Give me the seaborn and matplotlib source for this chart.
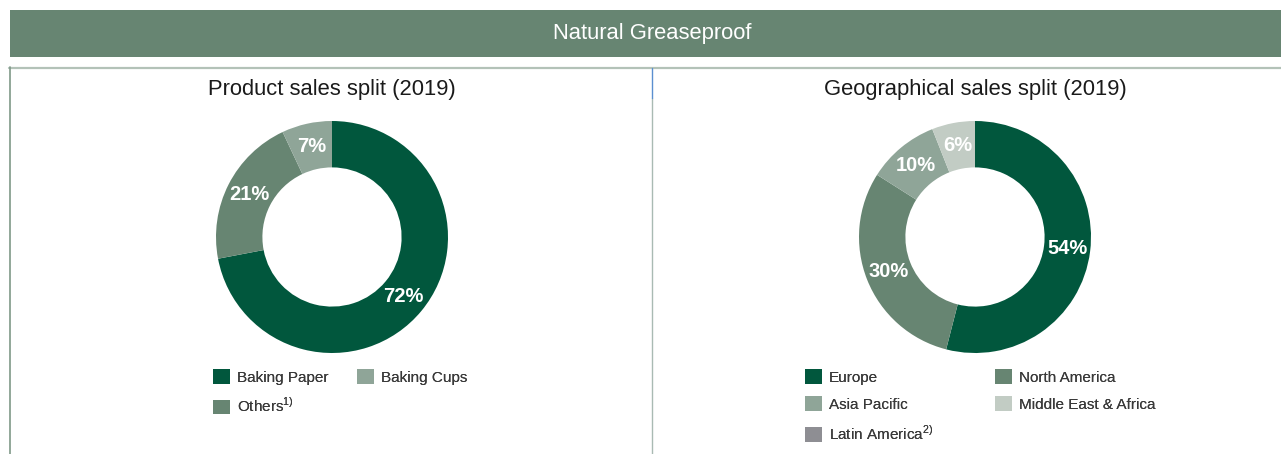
import matplotlib
matplotlib.use("Agg")
import matplotlib.pyplot as plt
from matplotlib.patches import Rectangle, Patch
from matplotlib.lines import Line2D
import numpy as np
import seaborn as sns

sns.set_theme(style="white")
plt.rcParams["font.family"] = ["Liberation Sans", "DejaVu Sans"]

# ---- data ----
header_title = "Natural Greaseproof"

product_title = "Product sales split (2019)"
product_labels = ["Baking Paper", "Others", "Baking Cups"]
product_values = [72, 21, 7]
product_colors = ["#01573D", "#678572", "#8FA598"]

geo_title = "Geographical sales split (2019)"
geo_labels = ["Europe", "North America", "Asia Pacific", "Middle East & Africa", "Latin America"]
geo_values = [54, 30, 10, 6, 0]
geo_colors = ["#01573D", "#678572", "#8FA598", "#C2CCC4", "#8E8E93"]

W, H = 1281, 454
fig = plt.figure(figsize=(W / 100, H / 100), dpi=100)
fig.patch.set_facecolor("white")


def fx(px):
    return px / W


def fy(py):
    return 1 - py / H


# header band
fig.add_artist(Rectangle((fx(10), fy(57)), fx(W - 10), 47 / H,
                         transform=fig.transFigure, facecolor="#678572",
                         edgecolor="none"))
fig.text(fx(652), fy(34), header_title, color="white", fontsize=15.8,
         ha="center", va="center")

# panel frame
fig.add_artist(Line2D([fx(9), 1], [fy(67.5), fy(67.5)], transform=fig.transFigure,
                      color="#B3C2B8", lw=1.6))
fig.add_artist(Line2D([fx(9.5), fx(9.5)], [fy(67), 0], transform=fig.transFigure,
                      color="#7F9888", lw=1.2))
fig.add_artist(Line2D([fx(652), fx(652)], [fy(98), 0], transform=fig.transFigure,
                      color="#A9BAB3", lw=1.0))
fig.add_artist(Line2D([fx(652), fx(652)], [fy(68), fy(98)], transform=fig.transFigure,
                      color="#5B8FD0", lw=1.0))


def donut(cx, cy, title, values, colors):
    r = 116
    ax = fig.add_axes([fx(cx - r), fy(cy + r), 2 * r / W, 2 * r / H])
    ax.pie(values, colors=colors, startangle=90, counterclock=False,
           radius=1.0, wedgeprops=dict(width=0.40, edgecolor="none"))
    ax.set_aspect("equal")
    ax.set_xlim(-1, 1)
    ax.set_ylim(-1, 1)
    ax.axis("off")
    total = sum(values)
    start = 90.0
    for v in values:
        if v <= 0:
            continue
        mid = start - 360 * v / total / 2
        start -= 360 * v / total
        rr = 0.80
        ax.text(rr * np.cos(np.radians(mid)), rr * np.sin(np.radians(mid)),
                f"{v}%", color="white", fontsize=14.5, fontweight="bold",
                ha="center", va="center")
    fig.text(fx(cx), fy(90), title, fontsize=15.8, color="#1a1a1a",
             ha="center", va="center")
    return ax


donut(332, 237, product_title, product_values, product_colors)
donut(975, 237, geo_title, geo_values, geo_colors)


def legend_column(x, y, labels, colors):
    handles = [Patch(facecolor=c, edgecolor="none") for c in colors]
    leg = fig.legend(handles, labels, loc="upper left",
                     bbox_to_anchor=(fx(x), fy(y)), frameon=False,
                     fontsize=11, handlelength=1.1, handleheight=1.1,
                     handletextpad=0.45, labelspacing=0.78,
                     borderaxespad=0, borderpad=0, labelcolor="#3a3a3a")
    fig.add_artist(leg)


sup1 = r"Others$^{\mathregular{1)}}$"
sup2 = r"Latin America$^{\mathregular{2)}}$"

legend_column(213, 369, ["Baking Paper", sup1], [product_colors[0], product_colors[1]])
legend_column(357, 369, ["Baking Cups"], [product_colors[2]])

legend_column(805, 369, ["Europe", "Asia Pacific", sup2],
              [geo_colors[0], geo_colors[2], geo_colors[4]])
legend_column(995, 369, ["North America", "Middle East & Africa"],
              [geo_colors[1], geo_colors[3]])

fig.savefig("out.png", dpi=100, facecolor="white")
